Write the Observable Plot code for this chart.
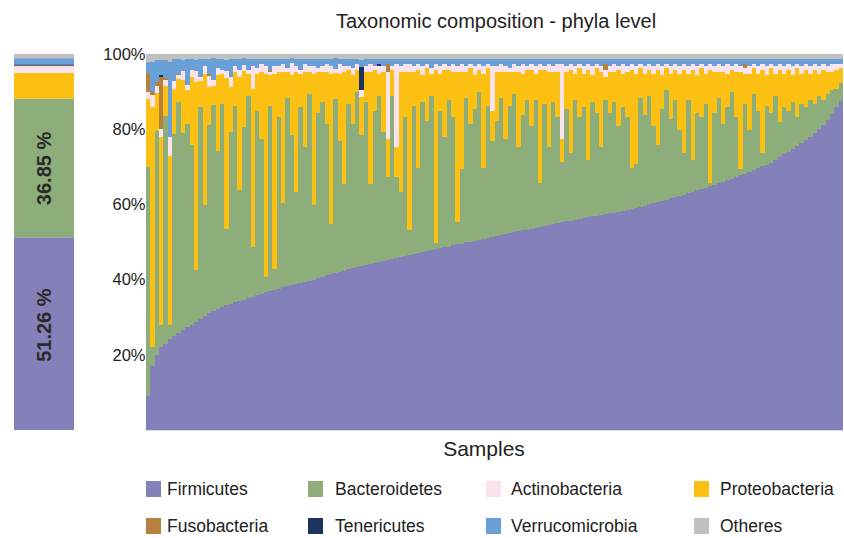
<!DOCTYPE html>
<html><head><meta charset="utf-8">
<script src="https://cdn.jsdelivr.net/npm/d3@7"></script>
<script src="https://cdn.jsdelivr.net/npm/@observablehq/plot@0.6"></script>
<style>
body{margin:0;background:#fff;font-family:"Liberation Sans",Arial,sans-serif;color:#222;}
#wrap{position:relative;width:844px;height:538px;overflow:hidden;background:#fff;}
#wrap svg{position:absolute;top:0;}
.abs{position:absolute;white-space:nowrap;}
</style></head>
<body><div id="wrap"></div>
<script>
const phyla = ["Firmicutes","Bacteroidetes","Proteobacteria","Actinobacteria","Fusobacteria","Tenericutes","Verrucomicrobia","Otheres"];
const colors = ["#8480b9","#8dae7a","#fcc012","#fbe3ec","#b7803c","#1f3361","#6aa0d8","#c0c0c0"];
const legendOrder = ["Firmicutes","Bacteroidetes","Actinobacteria","Proteobacteria","Fusobacteria","Tenericutes","Verrucomicrobia","Otheres"];
const averagePct = [51.26,36.85,6.9,1.75,0.15,0.35,1.65,1.09];
const yTicks = [0.2,0.4,0.6,0.8,1.0];

const firmicutes = [
9,17,20,22,23,24.2,25,25.8,26.6,27.3,
28,28.8,29.5,30.3,31,31.6,32.1,32.7,33.2,33.6,
34,34.3,34.6,35,35.3,35.8,36.2,36.6,37,37.3,
37.6,37.9,38.2,38.5,38.8,39,39.4,39.7,40,40.4,
40.8,41.1,41.4,41.7,42.1,42.4,42.7,43,43.3,43.6,
43.9,44.1,44.4,44.6,44.9,45.2,45.5,45.8,46,46.3,
46.6,46.9,47.1,47.4,47.6,47.9,48.1,48.3,48.6,48.8,
49.1,49.4,49.6,49.9,50.1,50.3,50.6,50.8,51.1,51.3,
51.6,51.8,52.1,52.3,52.6,52.8,53.1,53.3,53.5,53.8,
54.1,54.3,54.5,54.8,55,55.2,55.5,55.7,55.9,56.1,
56.3,56.6,56.8,57,57.2,57.4,57.6,57.8,58,58.3,
58.5,58.8,59.1,59.4,59.7,60,60.3,60.7,61,61.3,
61.6,62,62.3,62.6,63,63.3,63.7,64,64.4,64.8,
65.2,65.6,66,66.4,66.8,67.2,67.7,68.1,68.6,69.2,
69.6,70.1,70.6,71,71.8,72.6,73.3,74,74.8,75.5,
76.3,77.1,77.9,78.9,80,81.2,82.4,84,85.8,87.5];

const bacteroidetes = [
61,5,59.5,6,60.5,3.8,53.8,61.5,52.4,54,
47.8,13.7,56.3,29.5,50.2,54.9,42.2,54.1,20.3,45.7,
52.3,29.5,45.9,53.8,13.5,49,41.1,4.2,49.3,5.5,
45.7,22.4,50.1,40,24.5,46.8,35.9,49.6,19.8,43.9,
46.5,40.2,13.4,46.3,34.7,22.9,44.1,38.3,46.5,34.9,
43.4,21.2,40.4,44.2,34.4,22.1,43.3,21.5,17.3,37,
6.7,39.4,22.7,39.9,34.7,40.9,1.7,36.5,29.2,39,
34.2,5.9,19.7,38.4,31.2,35,39.2,19,35.2,25.5,
30.7,36.5,25.2,34,36.7,22.5,30.7,34.5,27.3,34,
11.7,32.5,20.8,32.5,28.3,16.1,29.8,18.1,31.9,27.2,
29.5,15.2,30.5,27.3,18.1,30.4,26.7,29.5,22.8,27.5,
24.8,11,11.7,28.9,24.1,28.8,20.5,15.1,24.3,29,
21.2,25.8,17.5,11.2,24.8,8.5,20.6,19.3,22.4,1,
19.1,22.7,15.3,19.4,23,16.1,1.6,18.7,11.2,20.1,
15.2,3.7,15.7,13.3,17,9.2,12.5,10.8,12.5,7.8,
10.5,8.7,9.9,7.9,8.8,6.6,6.9,6.3,5,4.8];

const proteobacteria = [
18,64,10,50,8,45,12,6,14,9,
18,50,7,35,10,5,20,8,40,12,
9,30,15,6,42,10,18,54,8,52,
12,35,7,16,32,9,20,6,35,11,
8,14,40,7,18,30,9,13,6,10,
8,30,11,6,16,10,7,8,32,12,
42,9,26,7,14,6,46,10,18,8,
12,40,26,7,15,9,6,25,10,8,
13,7,18,9,6,20,11,8,15,7,
30,9,20,8,12,6,10,22,7,13,
9,24,7,12,20,6,11,8,15,9,
12,26,24,8,11,7,14,20,9,6,
12,8,15,22,7,24,10,13,8,30,
11,7,14,9,6,12,26,8,15,7,
10,22,8,12,6,14,9,11,7,13,
8,10,7,9,6,8,6,5,5,4];

const actinobacteria = [
2,3,2,2,1.5,5,2,1,2.5,1.5,
2,3,1,2,3,1.5,2,1,2,2.5,
1.5,2,1.5,1,6,1.5,2,2,1,2,
1.5,2,1,3,1.5,1,2,1.5,2,1,
1.5,2,2,1,2.5,1.5,1,2,1.5,2,
1.5,2,1,2,1.5,18,1,22,1.5,2,
2,1.5,1.5,2.5,1,1.5,1.5,2,1.5,1,
2,1.5,2,1.5,1,2.5,1.5,2,1,12,
1.5,2,1.5,1,2,1.5,2.5,1,1.5,2,
1.5,1,2,1.5,2,20,1.5,1.5,2,1,
2,1.5,2.5,1,1.5,2,1.5,2,1,2.5,
1.5,1.5,2,1,2,1.5,2,1.5,2.5,1,
2,1.5,2,1.5,2,1.5,2.5,1,2,1.5,
1.5,2,1.5,2.5,1,2,1.5,1.5,2,1,
2,1.5,2.5,1,2,1.5,2,1.5,2.5,1,
2,1.5,2,1.5,2,1.5,1.5,2,1.5,1];

const fusobacteria = [
5,1,1,14,0.5,0,0,0.5,0,0,
0,0,0,0,0.6,0,0,0,0,0,
0,0,0,0,0,0,0,0,0.5,0,
0,0,0,0,0,0,0,0,0,0,
0,0,0,0,0,0,0,0,0,0,
0,0,0,0,0,2,0,0,0,0,
0,0,0,0,0,0,0,0,0,0,
0,0,0,0,0,0,0,0,0,0,
0,0,0,0,0,0,0,0,0,0,
0,0,0,0,0,0,0,0,0,0,
0,0,0,0,0,1.5,0,0,0,0,
0,0,0,0,0,0,0,0,0,0,
0,0,0,0,0,0,0,0,0,0,
0,0,0,0,0,0,0,1,0,0,
0,0,0,0,0,0,0,0,0,0,
0,0,0,0,0,0,0,0,0,0];

const tenericutes = [
0,0,0,0.5,0,0,0,0,0,0,
0,0,0,0,0,0,0,0,0,0,
0,0,0,0,0,0,0,0,0,0,
0,0,0,0,0,0,0,0,0,0,
0,0,0,0,0,0,0,0,0,6,
0,0,0,0.5,0,0,0,0,0,0,
0,0,0,0,0,0,0,0,0,0,
0,0,0,0,0,0,0,0,0,0,
0,0,0,0,0,0,0,0,0,0,
0,0,0,0,0,0,0,0,0,0,
0,0,0,0,0,0,0,0,0,0,
0,0,0,0,0,0,0,0,0,0,
0,0,0,0,0,0,0,0,0,0,
0,0,0,0,0,0,0,0,0,0,
0,0,0,0,0,0,0,0,0,0,
0,0,0,0,0,0,0,0,0,0];

const verrucomicrobia = [
3,8,6,4,5,20,6,4,3,7,
3,3,5,2,4,6,2.5,3,3,5,
2,3,2,3,2,2.5,1.5,2,3,2,
2,1.5,2.5,1.5,2,3,1.5,2,2,2.5,
2,1.5,2,3,1.5,2,2,2.5,1.5,2,
2,1.5,2,1.5,2,1.5,2,1.5,2,1.5,
1.5,2,1.5,2,1.5,2.5,1.5,2,1.5,2,
1.5,2,1.5,2,1.5,2,1.5,2,1.5,2,
2,1.5,2,2.5,1.5,2,1.5,2,1.5,2,
1.5,2,1.5,2,1.5,1.5,2,1.5,2,1.5,
2,1.5,2,1.5,2,1.5,2,1.5,2,1.5,
2,1.5,2,1.5,2,1.5,2,1.5,2,1.5,
2,1.5,2,1.5,2,1.5,2,1.5,2,1.5,
2,1.5,2,1.5,2,1.5,2,1.5,2,1.5,
2,1.5,2,1.5,2,1.5,2,1.5,2,1.5,
2,1.5,2,1.5,2,1.5,2,1.5,1.5,1.5];

const others = [
2,2,1.5,1.5,1.5,2,1.2,1.2,1.5,1.2,
1.2,1.5,1.2,1.2,1.2,1,1.2,1.2,1.5,1.2,
1.2,1.2,1,1.2,1.2,1.2,1.2,1.2,1.2,1.2,
1.2,1.2,1.2,1,1.2,1.2,1.2,1.2,1.2,1.2,
1.2,1.2,1.2,1,1.2,1.2,1.2,1.2,1.2,1.5,
1.2,1.2,1.2,1.2,1.2,1.2,1.2,1.2,1.2,1.2,
1.2,1.2,1.2,1.2,1.2,1.2,1.2,1.2,1.2,1.2,
1.2,1.2,1.2,1.2,1.2,1.2,1.2,1.2,1.2,1.2,
1.2,1.2,1.2,1.2,1.2,1.2,1.2,1.2,1.2,1.2,
1.2,1.2,1.2,1.2,1.2,1.2,1.2,1.2,1.2,1.2,
1.2,1.2,1.2,1.2,1.2,1.2,1.2,1.2,1.2,1.2,
1.2,1.2,1.2,1.2,1.2,1.2,1.2,1.2,1.2,1.2,
1.2,1.2,1.2,1.2,1.2,1.2,1.2,1.2,1.2,1.2,
1.2,1.2,1.2,1.2,1.2,1.2,1.2,1.2,1.2,1.2,
1.2,1.2,1.2,1.2,1.2,1.2,1.2,1.2,1.2,1.2,
1.2,1.2,1.2,1.2,1.2,1.2,1.2,1.2,1.2,1.2];

const series = [firmicutes, bacteroidetes, proteobacteria, actinobacteria, fusobacteria, tenericutes, verrucomicrobia, others];
const rows = firmicutes.flatMap((_, i) => phyla.map((p, k) => ({sample: i, phylum: p, value: series[k][i]})));
const avgRows = phyla.map((p, k) => ({group: "all", phylum: p, value: averagePct[k]}));

const FONT = '"Liberation Sans", Arial, sans-serif';
const colorScale = {domain: phyla, range: colors};
const wrap = document.getElementById("wrap");

// main stacked chart
const main = Plot.plot({
  width: 844, height: 432,
  marginLeft: 146, marginRight: 1, marginTop: 54, marginBottom: 2,
  style: {fontFamily: FONT, background: "transparent", color: "#222"},
  x: {type: "band", padding: 0, axis: null},
  y: {domain: [0, 1], axis: null},
  color: colorScale,
  marks: [
    Plot.barY(rows, {x: "sample", y: "value", fill: "phylum", order: phyla, offset: "normalize", shapeRendering: "crispEdges"}),
    Plot.ruleY([0], {stroke: "#dcdce8", strokeWidth: 1}),
    Plot.axisY({ticks: yTicks, tickFormat: d => Math.round(d * 100) + "%", tickSize: 0, tickPadding: 1, fontSize: 16.5, label: null, fill: "#222"})
  ]
});
main.style.left = "0px";
wrap.appendChild(main);

// left summary bar
const labelOpts = (name, dy) => Plot.stackY({x: "group", y: "value", z: "phylum", order: phyla,
  text: d => d.phylum === name ? d.value.toFixed(2) + " %" : "",
  rotate: -90, dy, fontSize: 20, fontWeight: "bold", fill: "#2a2a2a"});
const side = Plot.plot({
  width: 90, height: 432,
  marginLeft: 14, marginRight: 16, marginTop: 54, marginBottom: 2,
  style: {fontFamily: FONT, background: "transparent"},
  x: {type: "band", padding: 0, axis: null},
  y: {domain: [0, 100], axis: null},
  color: colorScale,
  marks: [
    Plot.barY(avgRows, {x: "group", y: "value", fill: "phylum", order: phyla}),
    Plot.text(avgRows, labelOpts("Firmicutes", -9)),
    Plot.text(avgRows, labelOpts("Bacteroidetes", 0))
  ]
});
side.style.left = "0px";
wrap.appendChild(side);

function addText(txt, css) {
  const d = document.createElement("div");
  d.className = "abs";
  d.textContent = txt;
  Object.assign(d.style, css);
  wrap.appendChild(d);
}
addText("Taxonomic composition - phyla level", {left: "296px", width: "400px", textAlign: "center", top: "11px", fontSize: "20px", lineHeight: "20px"});
addText("Samples", {left: "384px", width: "200px", textAlign: "center", top: "438px", fontSize: "21px", lineHeight: "21px"});

// legend
const colSwatch = [146, 308, 486, 694];
const colText = [167, 335, 511, 720];
const rowTop = [481, 518];
legendOrder.forEach((name, j) => {
  const c = j % 4, r = Math.floor(j / 4);
  const sw = document.createElement("div");
  sw.className = "abs";
  Object.assign(sw.style, {left: colSwatch[c] + "px", top: rowTop[r] + "px", width: "15px", height: "16px", background: colors[phyla.indexOf(name)]});
  wrap.appendChild(sw);
  addText(name, {left: colText[c] + "px", top: (rowTop[r] - 0.5) + "px", fontSize: "17.5px", lineHeight: "17.5px"});
});
</script>
</body></html>
